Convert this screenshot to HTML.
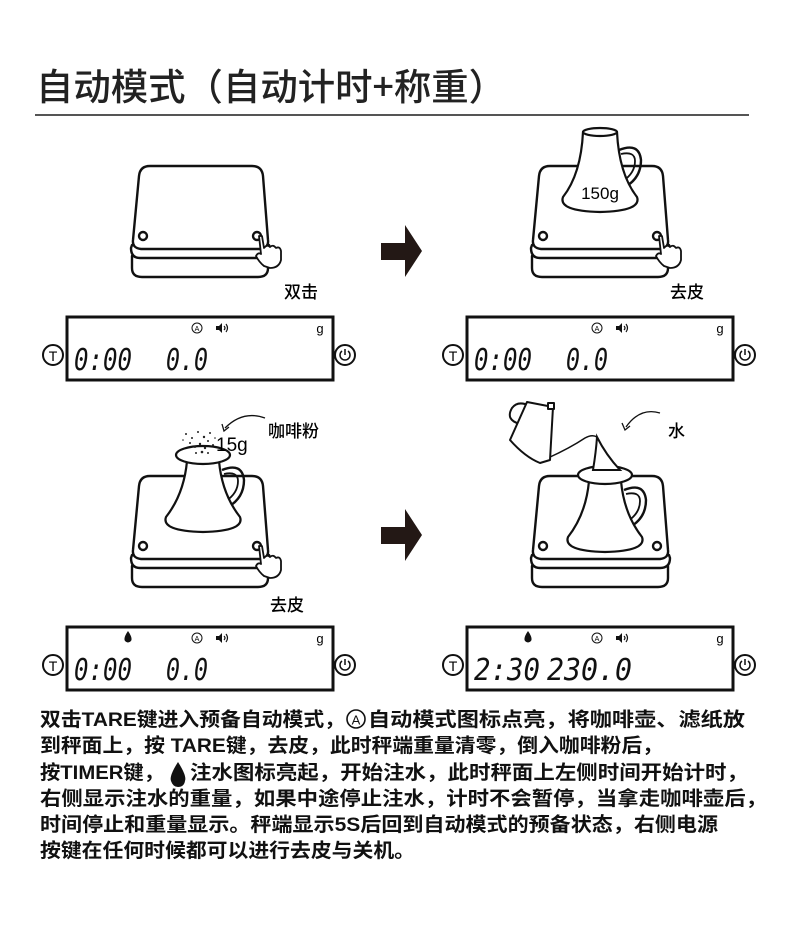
<!DOCTYPE html>
<html><head><meta charset="utf-8"><style>
html,body{margin:0;padding:0;background:#fff;}
svg{display:block;}
text{font-family:"Liberation Sans","Noto Sans CJK SC",sans-serif;}
.c{font-family:"Noto Sans CJK SC","WenQuanYi Zen Hei",sans-serif;}
.d{font-family:"DejaVu Sans Mono","Liberation Mono",monospace;font-style:italic;font-size:30px;fill:#111;}
</style></head><body>
<svg width="790" height="926" viewBox="0 0 790 926" xmlns="http://www.w3.org/2000/svg">
<defs>
<g id="scale" fill="#fff" stroke="#111" stroke-width="2.4" stroke-linejoin="round">
  <path d="M132,256 L132,268 Q132,277 142,277 L258,277 Q268,277 268,268 L268,256 Z"/>
  <path d="M131,248 Q131,258 140,258 L260,258 Q270,258 270,248 L269,245 L132,245 Z"/>
  <path d="M150,166 L252,166 Q262,166 263,176 L268,240 Q269,248 260,249 L141,249 Q132,248 133,240 L139,176 Q140,166 150,166 Z"/>
  <circle cx="143" cy="236" r="4"/>
  <circle cx="257" cy="236" r="4"/>
</g>
<g id="hand" fill="#fff" stroke="#111" stroke-width="1.8" stroke-linejoin="round">
  <path d="M259,236 L262,236 L264,248 Q267,244 270,247 Q273,244 276,248 Q280,246 281,251 L281,260 Q279,268 270,268 L264,266 Q259,262 256,256 Q258,252 261,254 Z"/>
</g>
<g id="frame">
  <rect x="67" y="317" width="266" height="63" fill="#fff" stroke="#111" stroke-width="3"/>
  <circle cx="53" cy="355" r="10" fill="#fff" stroke="#111" stroke-width="2"/>
  <text x="53" y="361" font-size="14" text-anchor="middle">T</text>
  <circle cx="345" cy="355" r="10" fill="#fff" stroke="#111" stroke-width="2"/>
  <path d="M342,351 A5,5 0 1 0 348,351 M345,349 L345,355" fill="none" stroke="#111" stroke-width="1.5"/>
  <circle cx="197" cy="328" r="5" fill="none" stroke="#111" stroke-width="1"/>
  <text x="197" y="331" font-size="7" text-anchor="middle">A</text>
  <path d="M216,326 L219,326 L222,323 L222,333 L219,330 L216,330 Z" fill="#111"/>
  <path d="M224,326 Q226,328 224,330 M226,324 Q229,328 226,332" fill="none" stroke="#111" stroke-width="1.2"/>
  <text x="320" y="333" font-size="13" text-anchor="middle">g</text>
</g>
<g id="lcd">
  <use href="#frame"/>
  <text class="d" x="74" y="370" textLength="58" lengthAdjust="spacingAndGlyphs">0:00</text>
  <text class="d" x="166" y="370" textLength="42" lengthAdjust="spacingAndGlyphs">0.0</text>
</g>
<g id="carafe" fill="#fff" stroke="#111" stroke-width="2.2" stroke-linejoin="round">
  <path d="M222,470 Q242,462 244,480 Q244,498 228,507" fill="none" stroke-width="2.4"/>
  <path d="M224,474 Q238,471 238,481 Q238,493 226,501" fill="none" stroke-width="1.8"/>
  <path d="M187,461 L219,461 Q222,494 240,517 Q245,531 203,532 Q161,531 166,517 Q184,494 187,461 Z"/>
  <ellipse cx="203" cy="455" rx="27" ry="9"/>
</g>
<g id="pot" fill="#fff" stroke="#111" stroke-width="2.2" stroke-linejoin="round">
  <path d="M222,470 Q242,462 244,480 Q244,498 228,507" fill="none" stroke-width="2.4"/>
  <path d="M224,474 Q238,471 238,481 Q238,493 226,501" fill="none" stroke-width="1.8"/>
  <path d="M186,452 L220,452 Q222,494 240,517 Q245,531 203,532 Q161,531 166,517 Q184,494 186,452 Z"/>
  <ellipse cx="203" cy="452" rx="17" ry="4"/>
</g>
</defs>

<text class="c" x="36" y="100" font-size="37" fill="#222" font-weight="500" textLength="470" lengthAdjust="spacingAndGlyphs">自动模式（自动计时+称重）</text>
<rect x="35" y="114" width="714" height="2" fill="#555"/>

<!-- panel 1 -->
<use href="#scale"/>
<use href="#hand"/>
<text class="c" x="284" y="298" font-size="17" font-weight="500">双击</text>
<use href="#lcd"/>

<!-- arrows -->
<path d="M381,243 L405,243 L405,225 L422,251 L405,277 L405,260 L381,260 Z" fill="#231815"/>
<path d="M381,527 L405,527 L405,509 L422,535 L405,561 L405,544 L381,544 Z" fill="#231815"/>

<!-- panel 2 -->
<g transform="translate(400,0)">
  <use href="#scale"/>
  <use href="#hand"/>
  <text class="c" x="270" y="298" font-size="17" font-weight="500">去皮</text>
  <use href="#lcd"/>
</g>
<g transform="translate(397,-320)"><use href="#pot"/></g>
<text x="600" y="199" font-size="17" text-anchor="middle">150g</text>

<!-- panel 3 -->
<g transform="translate(0,310)">
  <use href="#scale"/>
  <use href="#hand"/>
  <text class="c" x="270" y="301" font-size="17" font-weight="500">去皮</text>
  <use href="#lcd"/>
  <path d="M128,321 Q123,328 125,331 Q128,334 131,331 Q133,328 128,321 Z" fill="#111"/>
</g>
<use href="#carafe"/>
<g fill="#222">
<circle cx="186" cy="434" r="1"/><circle cx="192" cy="438" r="1"/><circle cx="198" cy="432" r="1"/><circle cx="204" cy="437" r="1.2"/><circle cx="208" cy="441" r="1"/><circle cx="200" cy="444" r="1.2"/><circle cx="195" cy="447" r="1"/><circle cx="205" cy="448" r="1.2"/><circle cx="210" cy="433" r="1"/><circle cx="190" cy="443" r="1"/><circle cx="213" cy="445" r="1"/><circle cx="202" cy="452" r="1.3"/><circle cx="196" cy="453" r="1"/><circle cx="208" cy="453" r="1"/><circle cx="183" cy="440" r="0.8"/><circle cx="215" cy="438" r="0.8"/>
</g>
<text x="216" y="451" font-size="19">15g</text>
<path d="M265,418 Q243,410 225,428" fill="none" stroke="#111" stroke-width="1.3"/>
<path d="M222,424 L224,431 L229,427" fill="none" stroke="#111" stroke-width="1.3"/>
<text class="c" x="268" y="437" font-size="17" font-weight="500">咖啡粉</text>

<!-- panel 4 -->
<g transform="translate(400,310)">
  <use href="#scale"/>
  <use href="#frame"/>
  <path d="M128,321 Q123,328 125,331 Q128,334 131,331 Q133,328 128,321 Z" fill="#111"/>
  <text class="d" x="74" y="370" textLength="66" lengthAdjust="spacingAndGlyphs">2:30</text>
  <text class="d" x="147" y="370" textLength="85" lengthAdjust="spacingAndGlyphs">230.0</text>
</g>
<g transform="translate(402,20)"><use href="#carafe"/></g>
<path d="M593,470 Q596,452 597,437 Q606,455 620,470 Z" fill="#fff" stroke="#111" stroke-width="2"/>
<path d="M548,458 Q570,448 585,438 Q592,434 597,437" fill="none" stroke="#111" stroke-width="1.5"/>
<g fill="#fff" stroke="#111" stroke-width="2" stroke-linejoin="round">
  <path d="M520,424 Q505,420 512,408 Q518,400 530,406" />
  <path d="M527,402 L553,407 L550,460 L540,463 Q525,457 510,440 Z"/>
  <rect x="548" y="403" width="6" height="6"/>
</g>
<path d="M660,413 Q640,407 626,427" fill="none" stroke="#111" stroke-width="1.3"/>
<path d="M622,423 L625,430 L630,426" fill="none" stroke="#111" stroke-width="1.3"/>
<text class="c" x="668" y="437" font-size="17" font-weight="500">水</text>

<!-- description -->
<g class="c" font-size="19.5" fill="#111" font-weight="bold">
<text x="40" y="726" textLength="305" lengthAdjust="spacingAndGlyphs">双击TARE键进入预备自动模式，</text>
<circle cx="356" cy="719" r="9" fill="none" stroke="#111" stroke-width="1.6"/>
<text x="356" y="724.5" font-size="13" font-weight="normal" text-anchor="middle" style="font-family:'Liberation Sans',sans-serif">A</text>
<text x="368" y="726" textLength="377" lengthAdjust="spacingAndGlyphs">自动模式图标点亮，将咖啡壶、滤纸放</text>
<text x="40" y="752" textLength="623" lengthAdjust="spacingAndGlyphs">到秤面上，按 TARE键，去皮，此时秤端重量清零，倒入咖啡粉后，</text>
<text x="40" y="779" textLength="124" lengthAdjust="spacingAndGlyphs">按TIMER键，</text>
<path d="M178,762 Q169,776 171,781 Q173,787 178,787 Q184,787 185,781 Q187,776 178,762 Z" fill="#111"/>
<text x="190" y="779" textLength="558" lengthAdjust="spacingAndGlyphs">注水图标亮起，开始注水，此时秤面上左侧时间开始计时，</text>
<text x="40" y="805" textLength="727" lengthAdjust="spacingAndGlyphs">右侧显示注水的重量，如果中途停止注水，计时不会暂停，当拿走咖啡壶后，</text>
<text x="40" y="831" textLength="678" lengthAdjust="spacingAndGlyphs">时间停止和重量显示。秤端显示5S后回到自动模式的预备状态，右侧电源</text>
<text x="40" y="857" textLength="375" lengthAdjust="spacingAndGlyphs">按键在任何时候都可以进行去皮与关机。</text>
</g>
</svg>
</body></html>
